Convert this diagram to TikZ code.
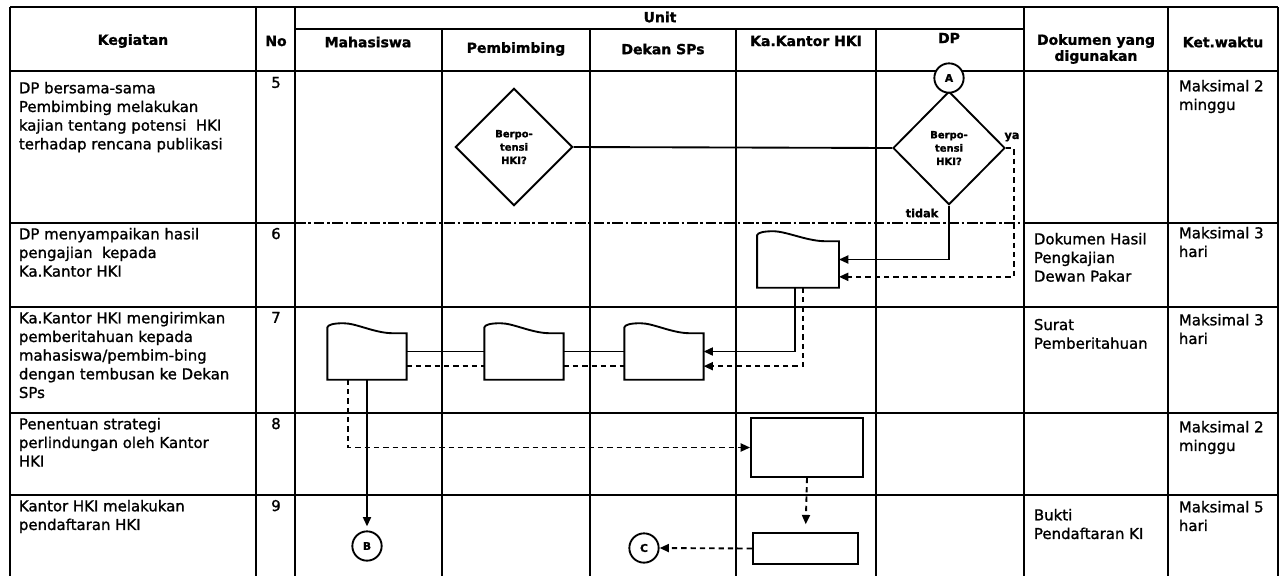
\documentclass[tikz,border=0pt]{standalone}
\usepackage{fontspec}
\setmainfont{DejaVu Sans}[FakeBold=1.2]
\usetikzlibrary{shapes.geometric,arrows.meta}

\newcommand{\dokumen}[1]{%
\draw ([yshift=-3pt]#1.north west)
  .. controls ([shift={(0.5pt,-1pt)}]#1.north west) and ([xshift=5pt]#1.north west) .. ([xshift=12pt]#1.north west)
  .. controls ([xshift=22pt]#1.north west) and ([shift={(-24pt,-7.5pt)}]#1.north east) .. ([shift={(-10pt,-7.5pt)}]#1.north east)
  -- ([yshift=-7.5pt]#1.north east) -- (#1.south east) -- (#1.south west) -- cycle;}

\begin{document}
\begin{tikzpicture}[x=0.75pt,y=-0.75pt,line width=1.4pt,
  keg/.style={anchor=north west,align=left,inner sep=0pt,font=\fontsize{11.2}{14}\selectfont},
  nomor/.style={anchor=north,inner sep=0pt,font=\fontsize{11.2}{14}\selectfont},
  judul/.style={align=center,inner sep=0pt,font=\bfseries\fontsize{10.5}{12}\selectfont},
  putus/.style={dash pattern=on 4pt off 3pt},
  panah/.style={-{Triangle[length=7pt,width=6pt]}},
  dok/.style={rectangle,minimum width=58pt,minimum height=41pt,inner sep=0pt},
  kotak/.style={draw,rectangle,inner sep=0pt},
  belah/.style={draw,diamond,inner sep=0pt,align=center,font=\bfseries\fontsize{7.5}{10}\selectfont},
  label/.style={inner sep=0pt,font=\bfseries\fontsize{8.5}{10}\selectfont},
  konektor/.style={draw,circle,fill=white,minimum size=22pt,inner sep=0pt,font=\bfseries\fontsize{8}{9}\selectfont}]
\useasboundingbox (0,0) rectangle (1282,576);

\draw (10,7)--(1278,7);
\draw (295,29)--(1024,29);
\draw (10,71)--(1278,71);
\draw (10,223)--(295,223);
\draw[dash pattern=on 8pt off 2pt on 2pt off 2pt] (295,223)--(1024,223);
\draw (1024,223)--(1278,223);
\draw (10,307)--(1278,307);
\draw (10,413)--(1278,413);
\draw (10,495)--(1278,495);
\draw (10,7)--(10,576);
\draw (256,7)--(256,576);
\draw (295,7)--(295,576);
\draw (442,29)--(442,576);
\draw (590,29)--(590,576);
\draw (736,29)--(736,576);
\draw (876,29)--(876,576);
\draw (1024,7)--(1024,576);
\draw (1168,7)--(1168,576);
\draw (1278,7)--(1278,576);

\node[judul] (hUnit) at (660,17) {Unit};
\node[judul] (hKeg) at (133,41) {Kegiatan};
\node[judul] (hNo) at (276,41) {No};
\node[judul] (hMhs) at (368,42) {Mahasiswa};
\node[judul] (hPmb) at (516,49) {Pembimbing};
\node[judul] (hDkn) at (663,49) {Dekan SPs};
\node[judul] (hKa) at (806,41) {Ka.Kantor HKI};
\node[judul] (hDP) at (949,38) {DP};
\node[judul] (hDok) at (1096,49) {Dokumen yang\\digunakan};
\node[judul] (hKet) at (1223,42) {Ket.waktu};

\node[keg] (k5) at (18,81) {DP bersama-sama\\Pembimbing melakukan\\kajian tentang potensi\ \ HKI\\terhadap rencana publikasi};
\node[keg] (k6) at (18,227) {DP menyampaikan hasil\\pengajian\ \ kepada\\Ka.Kantor HKI};
\node[keg] (k7) at (18,311) {Ka.Kantor HKI mengirimkan\\pemberitahuan kepada\\mahasiswa/pembim-bing\\dengan tembusan ke Dekan\\SPs};
\node[keg] (k8) at (18,417) {Penentuan strategi\\perlindungan oleh Kantor\\HKI};
\node[keg] (k9) at (18,499) {Kantor HKI melakukan\\pendaftaran HKI};
\node[nomor] (n5) at (276,76) {5};
\node[nomor] (n6) at (276,227) {6};
\node[nomor] (n7) at (276,311) {7};
\node[nomor] (n8) at (276,417) {8};
\node[nomor] (n9) at (276,499) {9};
\node[keg] (d6) at (1033,232) {Dokumen Hasil\\Pengkajian\\Dewan Pakar};
\node[keg] (d7) at (1033,318) {Surat\\Pemberitahuan};
\node[keg] (d9) at (1033,508) {Bukti\\Pendaftaran KI};
\node[keg] (w5) at (1178,79) {Maksimal 2\\minggu};
\node[keg] (w6) at (1178,226) {Maksimal 3\\hari};
\node[keg] (w7) at (1178,313) {Maksimal 3\\hari};
\node[keg] (w8) at (1178,420) {Maksimal 2\\minggu};
\node[keg] (w9) at (1178,500) {Maksimal 5\\hari};

\node[belah,minimum width=88pt,minimum height=88pt] (q1) at (514,147) {Berpo-\\tensi\\HKI?};
\node[belah,minimum width=84pt,minimum height=85pt] (q2) at (949,148) {Berpo-\\tensi\\HKI?};
\node[konektor] (ca) at (949,78) {A};
\node[label] (ya) at (1012,137) {ya};
\node[label] (tdk) at (922,213) {tidak};

\node[dok,minimum width=60pt] (dka) at (798,259.5) {};
\node[dok] (dmh) at (367,351.5) {};
\node[dok] (dpb) at (524,351.5) {};
\node[dok] (ddk) at (664,351.5) {};
\dokumen{dka}
\dokumen{dmh}
\dokumen{dpb}
\dokumen{ddk}

\node[kotak,minimum width=84pt,minimum height=44pt] (kt1) at (807,447.5) {};
\node[kotak,minimum width=79pt,minimum height=23pt] (kt2) at (805.5,548.5) {};
\node[konektor] (cb) at (367,546) {B};
\node[konektor] (cc) at (644,548) {C};

\draw (q1.east) -- (q2.west);
\draw[panah] (q2.south) |- (dka.east);
\draw[putus,panah] (q2.east) -- ++(8,0) |- ([yshift=-13pt]dka.east);
\draw[panah] ([xshift=-2pt]dka.south) |- (ddk.east);
\draw[putus,panah] ([xshift=4pt]dka.south) |- ([yshift=-11pt]ddk.east);
\draw (dmh.east) -- (dpb.west);
\draw (dpb.east) -- (ddk.west);
\draw[putus] ([yshift=-11pt]dmh.east) -- ([yshift=-11pt]dpb.west);
\draw[putus] ([yshift=-11pt]dpb.east) -- ([yshift=-11pt]ddk.west);
\draw[panah,shorten >=3pt] (dmh.south) -- (cb.north);
\draw[putus,panah] ([xshift=-14pt]dmh.south) |- (kt1.west);
\draw[putus,panah,shorten >=6pt] (kt1.south) -- (kt2.north);
\draw[putus,panah] (kt2.west) -- (cc.east);
\end{tikzpicture}
\end{document}
